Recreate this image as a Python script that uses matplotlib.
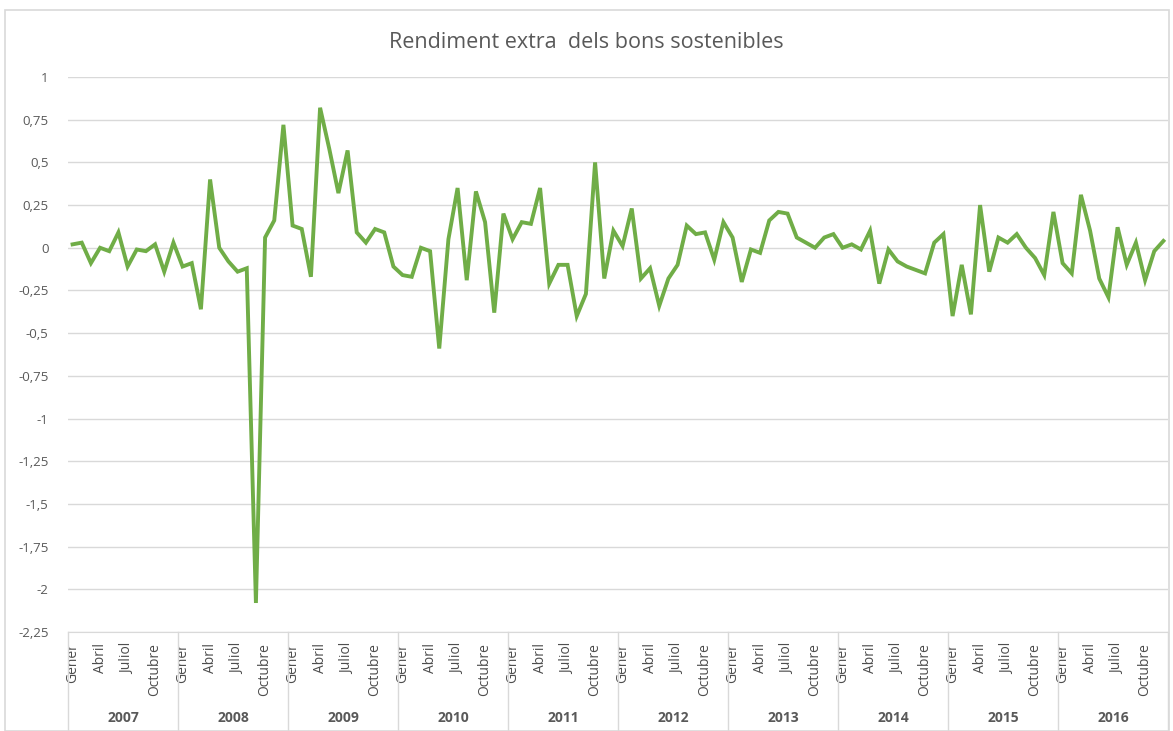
import numpy as np
import matplotlib.pyplot as plt
from matplotlib.patches import Rectangle
from matplotlib.ticker import FuncFormatter
import matplotlib.transforms as mtransforms

years = ["2007", "2008", "2009", "2010", "2011", "2012", "2013", "2014", "2015", "2016"]
month_labels = ["Gener", "Abril", "Juliol", "Octubre"]
month_idx = [0, 3, 6, 9]

r2007 = [0.02, 0.03, -0.09, 0.0, -0.02, 0.09, -0.11, -0.01, -0.02, 0.02, -0.14, 0.03]
r2008 = [-0.11, -0.09, -0.36, 0.40, 0.0, -0.08, -0.14, -0.12, -2.08, 0.06, 0.16, 0.72]
r2009 = [0.13, 0.11, -0.17, 0.82, 0.58, 0.32, 0.57, 0.09, 0.03, 0.11, 0.09, -0.11]
r2010 = [-0.16, -0.17, 0.0, -0.02, -0.59, 0.05, 0.35, -0.19, 0.33, 0.15, -0.38, 0.20]
r2011 = [0.05, 0.15, 0.14, 0.35, -0.21, -0.10, -0.10, -0.40, -0.27, 0.50, -0.18, 0.10]
r2012 = [0.01, 0.23, -0.18, -0.12, -0.34, -0.18, -0.10, 0.13, 0.08, 0.09, -0.07, 0.15]
r2013 = [0.06, -0.20, -0.01, -0.03, 0.16, 0.21, 0.20, 0.06, 0.03, 0.0, 0.06, 0.08]
r2014 = [0.0, 0.02, -0.01, 0.10, -0.21, -0.01, -0.08, -0.11, -0.13, -0.15, 0.03, 0.08]
r2015 = [-0.40, -0.10, -0.39, 0.25, -0.14, 0.06, 0.03, 0.08, 0.0, -0.06, -0.16, 0.21]
r2016 = [-0.09, -0.15, 0.31, 0.10, -0.18, -0.29, 0.12, -0.10, 0.03, -0.19, -0.02, 0.04]

values = np.array(r2007 + r2008 + r2009 + r2010 + r2011 + r2012 + r2013 + r2014 + r2015 + r2016)
x = np.arange(len(values))

txt_col = "#595959"
grid_col = "#d9d9d9"
plt.rcParams['font.family'] = ['Open Sans', 'DejaVu Sans']

fig = plt.figure(figsize=(11.73, 7.31), dpi=100)
fig.patches.append(Rectangle((5 / 1173, 0), 1164 / 1173, 721 / 731, transform=fig.transFigure,
                             fill=False, edgecolor=grid_col, linewidth=1.2))
ax = fig.add_axes([68 / 1173, 1 - 632 / 731, 1100 / 1173, 555 / 731])

ax.plot(x, values, color="#70ad47", linewidth=2.8, solid_joinstyle='miter')

ax.set_xlim(-0.5, len(values) - 0.5)
ax.set_ylim(-2.25, 1)
ax.set_yticks(np.arange(-2.25, 1.01, 0.25))


def fmt(v, pos):
    s = ("%.2f" % v).rstrip("0").rstrip(".")
    if s == "-0":
        s = "0"
    return s.replace(".", ",")


ax.yaxis.set_major_formatter(FuncFormatter(fmt))
ax.grid(axis='y', color=grid_col, linewidth=1)
ax.set_axisbelow(True)
for s in ["top", "right", "left"]:
    ax.spines[s].set_visible(False)
ax.spines["bottom"].set_color(grid_col)
ax.tick_params(axis='y', length=0, pad=14, labelsize=9.5, labelcolor=txt_col)

ticks = [12 * k + m for k in range(len(years)) for m in month_idx]
labels = [month_labels[j] for k in range(len(years)) for j in range(4)]
ax.set_xticks(ticks)
ax.set_xticklabels(labels, rotation=90)
ax.tick_params(axis='x', length=0, pad=8, labelsize=10, labelcolor="#4d4d4d")

trans = mtransforms.blended_transform_factory(ax.transData, ax.transAxes)
for k in range(len(years) + 1):
    ax.plot([12 * k - 0.5, 12 * k - 0.5], [0, -0.18], color=grid_col, linewidth=1,
            transform=trans, clip_on=False)
for k, yr in enumerate(years):
    ax.text(12 * k + 5.5, -0.155, yr, transform=trans, ha='center', va='center',
            fontsize=10, fontweight='bold', color=txt_col)

fig.text(0.5, 1 - 42 / 731, "Rendiment extra  dels bons sostenibles", ha='center', va='center',
         fontsize=15.5, color=txt_col)

plt.savefig("out.png", dpi=100)
